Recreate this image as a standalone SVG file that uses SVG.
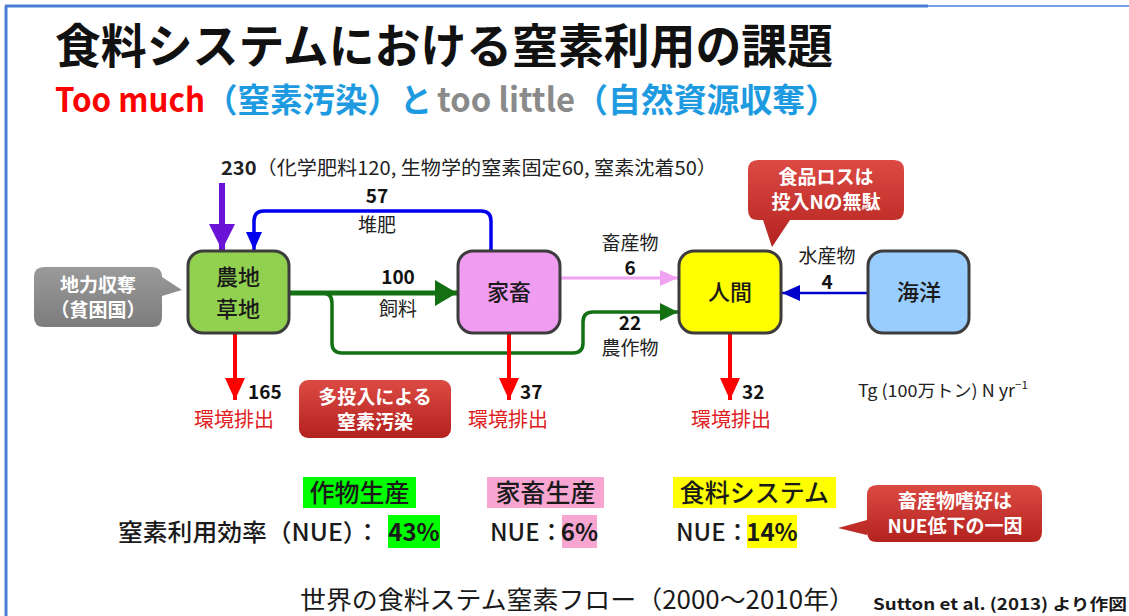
<svg xmlns="http://www.w3.org/2000/svg" width="1129" height="616" viewBox="0 0 1129 616">
<style>
  text { font-family: "Noto Sans CJK JP", "Noto Sans", "Liberation Sans", sans-serif; }
  .node rect { stroke: #3c3c3c; stroke-width: 3; }
  .nlabel { font-size: 22px; fill: #1a1a1a; text-anchor: middle; font-weight: 500; }
  .lbl { font-size: 19px; fill: #222; text-anchor: middle; }
  .num { font-size: 19px; fill: #111; font-weight: bold; text-anchor: middle; }
  .numl { font-size: 19px; fill: #111; font-weight: bold; }
  .emit { font-size: 20px; fill: #e02020; text-anchor: middle; }
  .ctext { font-size: 19px; fill: #ffffff; font-weight: bold; text-anchor: middle; }
  .big { font-size: 25px; fill: #1a1a1a; font-weight: 500; }
  .mid { font-size: 24px; fill: #1a1a1a; font-weight: 500; }
  .pct { font-size: 24px; fill: #1a1a1a; font-weight: bold; }
</style>
<defs>
  <linearGradient id="gRed" x1="0" y1="0" x2="0" y2="1">
    <stop offset="0" stop-color="#dc4a44"/>
    <stop offset="1" stop-color="#b3221e"/>
  </linearGradient>
  <linearGradient id="gGray" x1="0" y1="0" x2="0" y2="1">
    <stop offset="0" stop-color="#9a9a9a"/>
    <stop offset="1" stop-color="#7c7c7c"/>
  </linearGradient>
  <marker id="mPurple" markerUnits="userSpaceOnUse" markerWidth="28" markerHeight="28" refX="26" refY="13" orient="auto">
    <path d="M0,0 L26,13 L0,26 Z" fill="#6a12d6"/>
  </marker>
  <marker id="mGreenBig" markerUnits="userSpaceOnUse" markerWidth="24" markerHeight="28" refX="22" refY="13" orient="auto">
    <path d="M0,0 L22,13 L0,26 Z" fill="#137013"/>
  </marker>
  <marker id="mGreen" markerUnits="userSpaceOnUse" markerWidth="20" markerHeight="20" refX="18" refY="9" orient="auto">
    <path d="M0,0 L18,9 L0,18 Z" fill="#137013"/>
  </marker>
  <marker id="mBlue" markerUnits="userSpaceOnUse" markerWidth="20" markerHeight="20" refX="18" refY="8" orient="auto">
    <path d="M0,0 L18,8 L0,16 Z" fill="#0000ee"/>
  </marker>
  <marker id="mBlue2" markerUnits="userSpaceOnUse" markerWidth="20" markerHeight="20" refX="18" refY="8" orient="auto">
    <path d="M0,0 L18,8 L0,16 Z" fill="#0000cc"/>
  </marker>
  <marker id="mPink" markerUnits="userSpaceOnUse" markerWidth="20" markerHeight="20" refX="18" refY="8" orient="auto">
    <path d="M0,0 L18,8 L0,16 Z" fill="#f2a2f2"/>
  </marker>
  <marker id="mRed" markerUnits="userSpaceOnUse" markerWidth="24" markerHeight="24" refX="22" refY="10" orient="auto">
    <path d="M0,0 L22,10 L0,20 Z" fill="#ff0000"/>
  </marker>
</defs>

<rect x="0" y="0" width="1129" height="616" fill="#ffffff"/>
<!-- frame -->
<line x1="6" y1="6" x2="6" y2="616" stroke="#4a7ed6" stroke-width="3"/>
<line x1="5" y1="6" x2="928" y2="6" stroke="#4a7ed6" stroke-width="3"/>
<line x1="928" y1="6" x2="1129" y2="6" stroke="#4a7ed6" stroke-width="1.5"/>

<!-- title -->
<text x="55" y="63" font-size="47" font-weight="bold" fill="#111" textLength="778" lengthAdjust="spacingAndGlyphs">食料システムにおける窒素利用の課題</text>
<text x="55" y="112" font-size="33" font-weight="bold" fill="#ff0000" textLength="150" lengthAdjust="spacingAndGlyphs">Too much</text>
<text x="205" y="112" font-size="33" font-weight="bold" fill="#1e9be0" textLength="195" lengthAdjust="spacingAndGlyphs">（窒素汚染）</text>
<text x="400" y="112" font-size="33" font-weight="bold" fill="#1e9be0" textLength="32" lengthAdjust="spacingAndGlyphs">と</text>
<text x="437" y="112" font-size="33" font-weight="bold" fill="#8a8a8a" textLength="138" lengthAdjust="spacingAndGlyphs">too little</text>
<text x="575" y="112" font-size="33" font-weight="bold" fill="#1e9be0" textLength="263" lengthAdjust="spacingAndGlyphs">（自然資源収奪）</text>

<!-- connectors -->
<g id="connectors" fill="none">
  <path d="M222,183 V250" stroke="#6a12d6" stroke-width="6" marker-end="url(#mPurple)"/>
  <path d="M491,251 V221 Q491,211 481,211 H264 Q254,211 254,221 V250" stroke="#0000ee" stroke-width="3.5" marker-end="url(#mBlue)"/>
  <path d="M290,293 H322 Q332,293 332,303 V343 Q332,353 342,353 H573 Q583,353 583,343 V322 Q583,312 593,312 H678" stroke="#137013" stroke-width="3.5" marker-end="url(#mGreen)"/>
  <path d="M290,293 H457" stroke="#137013" stroke-width="5" marker-end="url(#mGreenBig)"/>
  <path d="M561,278 H678" stroke="#f2a2f2" stroke-width="3" marker-end="url(#mPink)"/>
  <path d="M868,293 H782" stroke="#0000cc" stroke-width="2.5" marker-end="url(#mBlue2)"/>
  <path d="M235,333 V400" stroke="#ff0000" stroke-width="4" marker-end="url(#mRed)"/>
  <path d="M509,333 V400" stroke="#ff0000" stroke-width="4" marker-end="url(#mRed)"/>
  <path d="M730,333 V400" stroke="#ff0000" stroke-width="4" marker-end="url(#mRed)"/>
</g>

<!-- connector labels -->
<text x="221" y="175" font-size="19" fill="#222" textLength="496" lengthAdjust="spacingAndGlyphs"><tspan font-weight="bold">230</tspan>（化学肥料120, 生物学的窒素固定60, 窒素沈着50）</text>
<text class="num" x="377" y="203">57</text>
<text class="lbl" x="377" y="232">堆肥</text>
<text class="num" x="398" y="284">100</text>
<text class="lbl" x="398" y="316">飼料</text>
<text class="lbl" x="630" y="250">畜産物</text>
<text class="num" x="630" y="275">6</text>
<text class="num" x="630" y="330">22</text>
<text class="lbl" x="630" y="355">農作物</text>
<text class="lbl" x="827" y="263">水産物</text>
<text class="num" x="827" y="289">4</text>
<text class="numl" x="248" y="399">165</text>
<text class="emit" x="234" y="427">環境排出</text>
<text class="numl" x="520" y="399">37</text>
<text class="emit" x="508" y="427">環境排出</text>
<text class="numl" x="742" y="399">32</text>
<text class="emit" x="731" y="427">環境排出</text>
<text x="858" y="397" font-size="17" fill="#222" textLength="170" lengthAdjust="spacingAndGlyphs">Tg (100万トン) N yr<tspan font-size="11" dy="-8">−1</tspan></text>

<!-- nodes -->
<g id="node-farm" class="node">
  <rect x="188" y="251" width="101" height="82" rx="15" fill="#92d050"/>
  <text class="nlabel" x="238" y="285">農地</text>
  <text class="nlabel" x="238" y="317">草地</text>
</g>
<g id="node-livestock" class="node">
  <rect x="458" y="251" width="102" height="82" rx="15" fill="#f09cf0"/>
  <text class="nlabel" x="509" y="300">家畜</text>
</g>
<g id="node-human" class="node">
  <rect x="679" y="251" width="102" height="82" rx="15" fill="#ffff00"/>
  <text class="nlabel" x="730" y="300">人間</text>
</g>
<g id="node-ocean" class="node">
  <rect x="868" y="251" width="101" height="82" rx="15" fill="#99ccff"/>
  <text class="nlabel" x="919" y="300">海洋</text>
</g>

<!-- callouts -->
<g id="callout-soil">
  <path d="M44,267 H152 Q162,267 162,277 L182,290 L162,296 V317 Q162,327 152,327 H44 Q34,327 34,317 V277 Q34,267 44,267 Z" fill="url(#gGray)"/>
  <text class="ctext" x="98" y="292">地力収奪</text>
  <text class="ctext" x="98" y="317">（貧困国）</text>
</g>
<g id="callout-pollution">
  <rect x="299" y="380" width="152" height="58" rx="9" fill="url(#gRed)"/>
  <text class="ctext" x="375" y="404">多投入による</text>
  <text class="ctext" x="375" y="429">窒素汚染</text>
</g>
<g id="callout-foodloss">
  <path d="M758,160 H894 Q904,160 904,170 V210 Q904,220 894,220 H790 L772,247 L763,220 H758 Q748,220 748,210 V170 Q748,160 758,160 Z" fill="url(#gRed)"/>
  <text class="ctext" x="826" y="184">食品ロスは</text>
  <text class="ctext" x="826" y="209">投入Nの無駄</text>
</g>
<g id="callout-preference">
  <path d="M877,485 H1032 Q1042,485 1042,495 V532 Q1042,542 1032,542 H877 Q867,542 867,532 V535 L838,528 L867,520 V495 Q867,485 877,485 Z" fill="url(#gRed)"/>
  <text class="ctext" x="955" y="508">畜産物嗜好は</text>
  <text class="ctext" x="955" y="533">NUE低下の一因</text>
</g>

<!-- NUE summary -->
<g id="nue-crop">
  <rect x="303" y="477" width="113" height="31" fill="#00ff00"/>
  <text class="big" x="359.5" y="502" text-anchor="middle">作物生産</text>
  <text class="mid" x="118" y="541" textLength="262" lengthAdjust="spacingAndGlyphs">窒素利用効率（NUE）：</text>
  <rect x="388" y="515" width="52" height="33" fill="#00ff00"/>
  <text class="pct" x="414" y="541" text-anchor="middle">43%</text>
</g>
<g id="nue-livestock">
  <rect x="487" y="477" width="117" height="31" fill="#f7a6d2"/>
  <text class="big" x="545.5" y="502" text-anchor="middle">家畜生産</text>
  <text class="mid" x="490" y="541">NUE：</text>
  <rect x="562" y="515" width="35" height="33" fill="#f7a6d2"/>
  <text class="pct" x="579.5" y="541" text-anchor="middle">6%</text>
</g>
<g id="nue-food">
  <rect x="673" y="477" width="163" height="31" fill="#ffff00"/>
  <text class="big" x="754.5" y="502" text-anchor="middle">食料システム</text>
  <text class="mid" x="676" y="541">NUE：</text>
  <rect x="747" y="515" width="50" height="33" fill="#ffff00"/>
  <text class="pct" x="772" y="541" text-anchor="middle">14%</text>
</g>

<!-- caption -->
<text x="300" y="609" font-size="25" fill="#1a1a1a" textLength="555" lengthAdjust="spacingAndGlyphs">世界の食料ステム窒素フロー（2000〜2010年）</text>
<text x="873" y="610" font-size="16" font-weight="bold" fill="#1a1a1a" textLength="254" lengthAdjust="spacingAndGlyphs">Sutton et al. (2013) より作図</text>
</svg>
